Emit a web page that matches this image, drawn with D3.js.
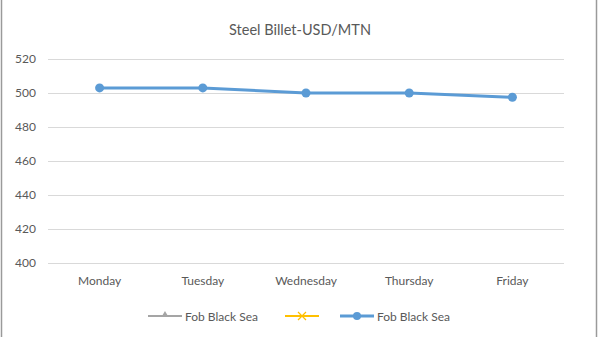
<!DOCTYPE html>
<html>
<head>
<meta charset="utf-8">
<script src="https://cdn.jsdelivr.net/npm/d3@7"></script>
<style>
  html, body { margin: 0; padding: 0; background: #fff; }
  svg { display: block; font-family: Lato, "Open Sans", sans-serif; }
</style>
</head>
<body>
<svg id="chart" width="600" height="337"></svg>
<script>
// Weekly steel billet price, FOB Black Sea (USD per metric tonne)
const days = ["Monday", "Tuesday", "Wednesday", "Thursday", "Friday"];
const fobBlackSea = [503, 503, 500, 500, 497.5];
const yTicks = [400, 420, 440, 460, 480, 500, 520];
const legendItems = [
  { name: "Fob Black Sea", color: "#a5a5a5", marker: "triangle" },
  { name: "", color: "#ffc000", marker: "x" },
  { name: "Fob Black Sea", color: "#5b9bd5", marker: "circle" }
];

const svg = d3.select("#chart");
const W = 600, H = 337;
const textColor = "#595959";

// side edges of the chart area
svg.append("g")
  .selectAll("line").data([1.5, 596.5]).join("line")
  .attr("x1", d => d).attr("x2", d => d)
  .attr("y1", 0).attr("y2", H)
  .attr("stroke", "#9a9a9a").attr("stroke-width", 1.5);

const plot = { left: 48, right: 564, top: 59, bottom: 263 };

const x = d3.scaleBand().domain(days).range([plot.left, plot.right]);
const y = d3.scaleLinear().domain([400, 520]).range([plot.bottom, plot.top]);

// title
svg.append("text")
  .attr("x", 300).attr("y", 35)
  .attr("text-anchor", "middle")
  .attr("fill", textColor)
  .attr("font-size", 14.5)
  .text("Steel Billet-USD/MTN");

// horizontal gridlines
svg.append("g")
  .selectAll("line").data(yTicks).join("line")
  .attr("x1", plot.left).attr("x2", plot.right)
  .attr("y1", d => Math.round(y(d)) + 0.5).attr("y2", d => Math.round(y(d)) + 0.5)
  .attr("stroke", "#d9d9d9").attr("stroke-width", 1);

// y axis labels
const yAxis = d3.axisLeft(y).tickValues(yTicks).tickSize(0).tickPadding(12);
const gy = svg.append("g").attr("transform", `translate(${plot.left},0)`).call(yAxis);
gy.select(".domain").remove();
gy.selectAll("text").attr("fill", textColor).attr("font-size", 12).attr("font-family", "Lato, 'Open Sans', sans-serif");

// x axis labels
const xAxis = d3.axisBottom(x).tickSize(0).tickPadding(13);
const gx = svg.append("g").attr("transform", `translate(0,${plot.bottom})`).call(xAxis);
gx.select(".domain").remove();
gx.selectAll("text").attr("fill", textColor).attr("font-size", 12).attr("font-family", "Lato, 'Open Sans', sans-serif");

// price line
const cx = d => x(d) + x.bandwidth() / 2;
const line = d3.line().x((d, i) => cx(days[i])).y(d => y(d));
svg.append("path")
  .datum(fobBlackSea)
  .attr("d", line)
  .attr("fill", "none")
  .attr("stroke", "#5b9bd5")
  .attr("stroke-width", 3)
  .attr("stroke-linejoin", "round");

svg.append("g")
  .selectAll("circle").data(fobBlackSea).join("circle")
  .attr("cx", (d, i) => cx(days[i]))
  .attr("cy", d => y(d))
  .attr("r", 4.5)
  .attr("fill", "#5b9bd5");

// legend
const legendY = 316;
const legendX = [148, 285, 340];
const lg = svg.append("g");
legendItems.forEach((item, i) => {
  const g = lg.append("g").attr("transform", `translate(${legendX[i]},${legendY})`);
  g.append("line").attr("x1", 0).attr("x2", 34).attr("y1", 0).attr("y2", 0)
    .attr("stroke", item.color).attr("stroke-width", item.marker === "circle" ? 3 : 2);
  if (item.marker === "triangle") {
    g.append("path").attr("d", d3.symbol(d3.symbolTriangle, 22)()).attr("transform", "translate(17,-1)").attr("fill", item.color);
  } else if (item.marker === "x") {
    g.append("path").attr("d", "M13,-4L21,4M21,-4L13,4").attr("stroke", item.color).attr("stroke-width", 1.2);
  } else {
    g.append("circle").attr("cx", 17).attr("cy", 0).attr("r", 4).attr("fill", item.color);
  }
  if (item.name) {
    g.append("text").attr("x", 37).attr("y", 4.5)
      .attr("fill", textColor).attr("font-size", 12).text(item.name);
  }
});
</script>
</body>
</html>
